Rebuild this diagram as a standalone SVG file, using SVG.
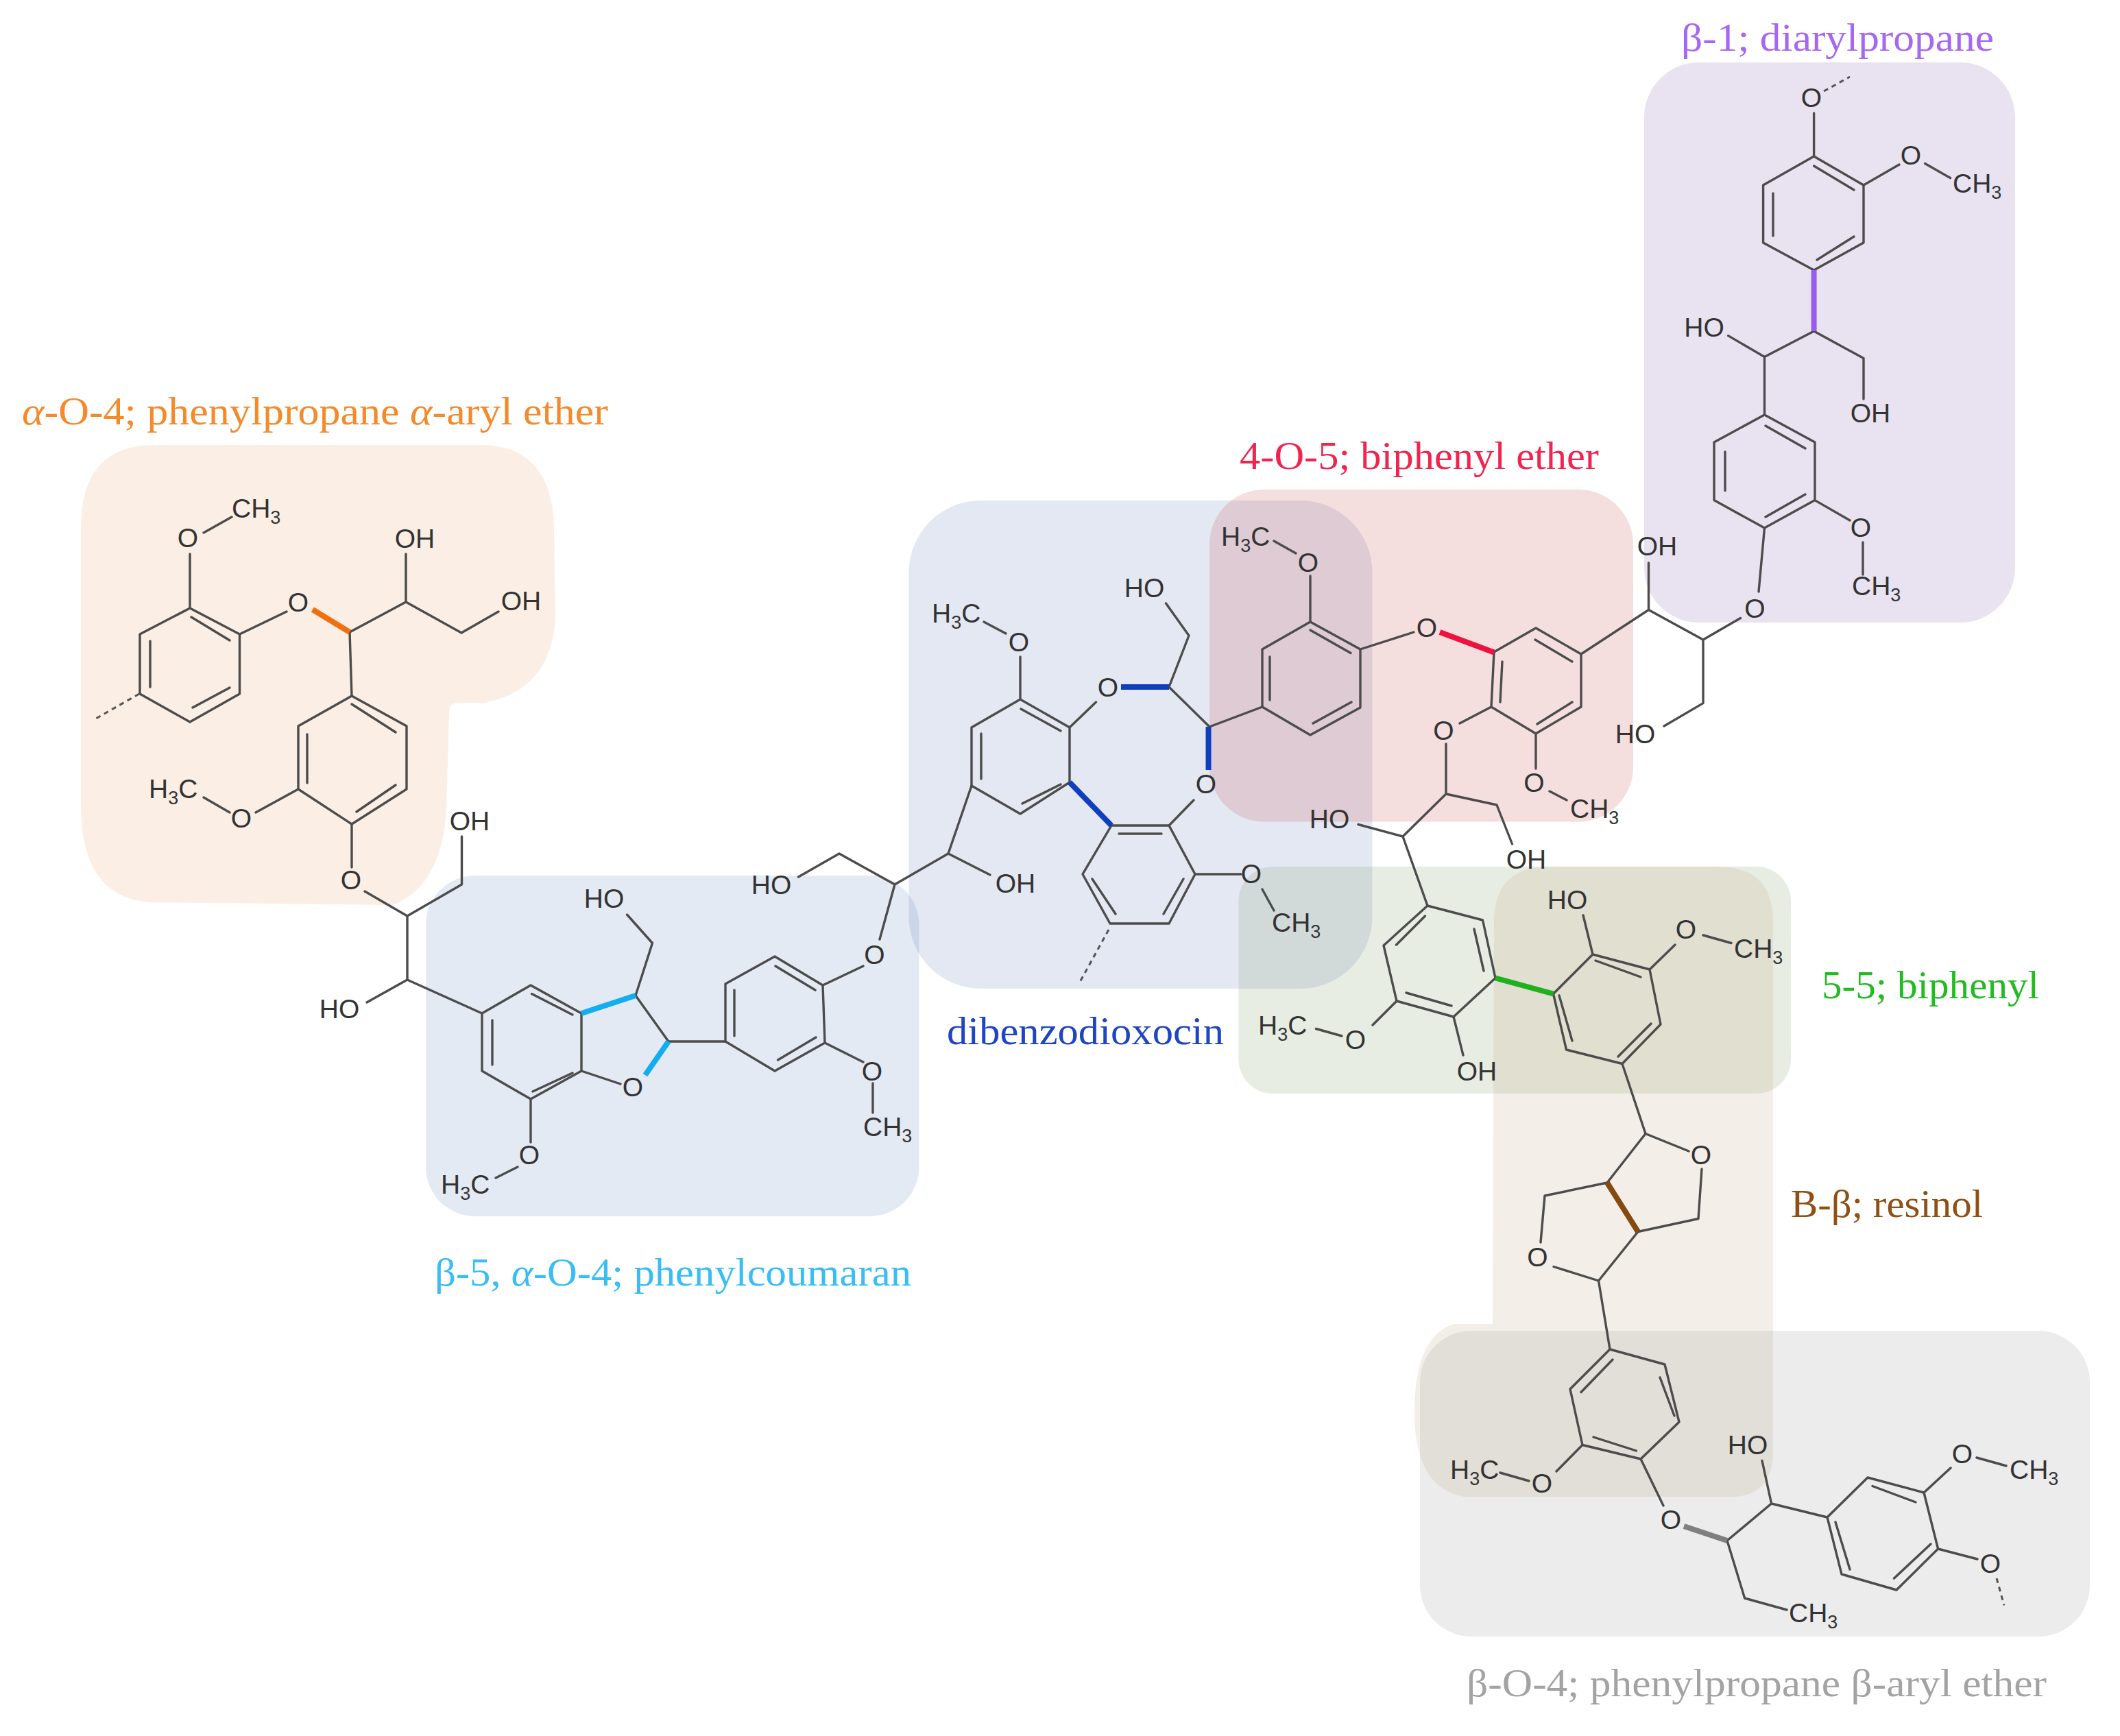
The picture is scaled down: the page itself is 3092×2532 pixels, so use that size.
<svg xmlns="http://www.w3.org/2000/svg" width="3092" height="2532" viewBox="0 0 3092 2532">
<style>
.bond{fill:none;stroke:#4c4c4c;stroke-width:3.4;stroke-linecap:round;stroke-linejoin:round}
.dash{fill:none;stroke:#555;stroke-width:3;stroke-dasharray:7 6}
.hl{fill:none;stroke-width:8;stroke-linecap:butt}
.a{font-family:"Liberation Sans",Arial,sans-serif;font-size:39px;fill:#333;text-anchor:middle}
.f{font-family:"Liberation Sans",Arial,sans-serif;font-size:39px;fill:#333}
.s{font-size:27px}
.l{font-family:"Liberation Serif","Times New Roman",serif;font-size:58px}
.i{font-style:italic}
.box{fill-opacity:.17}
</style>
<rect width="3092" height="2532" fill="#ffffff"/>
<g id="regions">
<path id="region-alpha-o-4" class="box" fill="#e89b60" d="M118,770Q118,649 225,649L700,649Q805,649 808,770L810,900Q805,1005 708,1025L668,1025Q655,1025 655,1040L651,1180Q645,1290 574,1320L220,1316Q118,1310 118,1175Z"/>
<rect id="region-phenylcoumaran" class="box" fill="#5a84bf" x="621" y="1277" width="719.500" height="497" rx="72"/>
<rect id="region-dibenzodioxocin" class="box" fill="#6078b3" x="1325.500" y="730" width="676" height="712" rx="105"/>
<rect id="region-biphenyl-ether" class="box" fill="#c43d3d" x="1764" y="714" width="618" height="484.500" rx="80"/>
<rect id="region-diarylpropane" class="box" fill="#7e5aad" x="2398" y="91" width="541" height="817" rx="80"/>
<rect id="region-biphenyl" class="box" fill="#789560" x="1806.500" y="1264" width="805.500" height="331" rx="50"/>
<path id="region-resinol" class="box" fill="#b99b72" d="M2179,1345Q2179,1264 2260,1264L2505,1264Q2586,1264 2586,1345L2586,2115Q2586,2183 2525,2183L2135,2183Q2063,2170 2063,2060Q2063,1950 2120,1931L2177,1931Z"/>
<rect id="region-beta-o-4" class="box" fill="#909090" x="2071" y="1941" width="977" height="446" rx="75"/>
</g>
<g id="connectors">
<path class="bond" d="M277,887L349.500,925L349.500,1012L277,1053L204,1012L204,925ZM279,900L335,934M335,1003L281,1032M219,935L219,1002M277,887L277,808M297,777L338,754M349.500,925L418,892M510,922L513,1015M510,922L592,878L592,808M592,878L673,923L727,892"/>
<path class="bond" d="M513,1015L593,1059L593,1151L513,1202L435,1151L435,1059ZM513,1027L577,1068M577,1145L520,1184M448,1071L448,1142M435,1151L373,1185M335,1185L297,1163M513,1202L513,1265M532,1300L594,1336L673.500,1290L673.500,1220M594,1336L594,1429L535,1462M594,1429L703,1478"/>
<path class="bond" d="M703,1478L774,1437L848,1478L848,1562L774,1603L703,1562ZM718,1488L718,1553M775.500,1449.500L835,1480M835,1565L777,1592M927,1452L951.500,1375.500L914.500,1334M927,1452L975,1519M848,1562L905,1581M975,1519L1058,1519M774,1603L774,1666M755,1702L723,1718"/>
<path class="bond" d="M1058,1519L1058,1435L1130,1395L1200,1437L1203,1521L1130,1562ZM1071,1444L1071,1511M1131,1409L1189,1444M1190,1513L1134.500,1546M1200,1437L1259,1409M1283,1370L1305,1290L1224,1245L1164.500,1279M1305,1290L1383,1245L1444,1276M1383,1245L1417,1146M1203,1521L1259,1549M1273,1580L1273,1623"/>
<path class="bond" d="M1488,1020L1560,1061L1560,1141L1488,1187L1417,1146L1417,1061ZM1489,1034L1547,1066M1547,1144L1491,1172M1431,1070L1431,1136M1488,1020L1488,958M1467,924L1435,907M1560,1061L1598.500,1024M1705,1002L1734,927L1700.500,880M1705,1002L1764,1060M1741,1167L1705,1204M1764,1060L1841,1031"/>
<path class="bond" d="M1621,1204L1705,1204L1743,1275L1705,1347L1619,1347L1579,1275ZM1632,1216L1694,1216M1726,1282L1697,1333M1593,1282L1627,1333M1743,1275L1810,1275M1841,1297L1858,1328"/>
<path class="bond" d="M1911,907L1984,947L1984,1032L1911,1072L1841,1031L1841,947ZM1911,919L1970,952.500M1971,1024L1915,1055M1852,958L1852,1021M1911,907L1911,840M1890,807L1858,789M1984,947L2062,922"/>
<path class="bond" d="M2179,951L2240,916L2306,954L2306,1031L2240,1070L2175,1031ZM2191,965L2188,1024M2239,933L2293,965M2293,1024L2242,1056M2175,1031L2129,1055M2109,1085L2109,1158L2046,1220L1981,1202.500M2109,1158L2183,1174L2205.500,1231M2046,1220L2082,1321M2240,1070L2240,1121M2260,1154L2285,1167"/>
<path class="bond" d="M2082,1321L2162.500,1342L2181,1426.500L2120,1483L2037,1460L2018,1379ZM2078.500,1336L2036.500,1378M2150,1355L2164,1416M2051,1448L2117,1467M2037,1460L2002,1495M1957,1511L1919.500,1500.500M2120,1483L2134,1539"/>
<path class="bond" d="M2265.500,1449.500L2323,1392L2406,1414L2422,1494L2366,1551.500L2284.500,1531ZM2327,1401L2393,1425M2408,1493L2360,1541M2274,1452L2293,1518M2323,1392L2309,1335M2406,1414L2443,1378M2484,1364L2525,1375.500M2366,1551.500L2400,1653.500L2463,1679M2482,1705L2477,1777.500L2389,1796.500M2400,1653.500L2344,1725L2253,1744L2247,1812M2266,1847.500L2331.500,1868L2389,1796.500M2331.500,1868L2348,1968"/>
<path class="bond" d="M2348,1968L2428,1990L2449,2074L2393,2128L2308,2107.500L2290,2026ZM2352,1983L2306,2030.500M2421,2009L2442,2065M2324,2096L2386.500,2116M2308,2107.500L2270,2146M2230,2160L2188,2148M2393,2128L2426,2196M2519,2247L2583.600,2193L2570,2130.500M2583.600,2193L2665,2213M2519,2247L2544.600,2331L2606,2348"/>
<path class="bond" d="M2665,2213L2724,2155L2806,2177L2826.600,2259L2766,2319L2686,2296ZM2731,2167.500L2794,2191M2816,2252L2762.500,2302M2677,2220L2698,2289M2806,2177L2845,2141M2883,2126L2926,2138M2826.600,2259L2884,2274"/>
<path class="bond" d="M2645.600,228L2718,270L2718,354L2645.600,394L2571.600,354L2571.600,270ZM2645.600,242L2704,277M2704,345L2650,379M2586,282L2586,344M2645.600,228L2645.600,165M2718,270L2770,240M2807.600,238.500L2844.500,259.600M2645.600,483L2573.500,520.500L2520.600,489.600M2645.600,483L2718,522.600L2718,582M2573.500,520.500L2573.500,605"/>
<path class="bond" d="M2573.500,605L2647,645L2647,729.600L2573.500,770L2500,729.600L2500,645ZM2575,621L2633,654M2633,721L2575,754M2516,659L2516,715.500M2647,729.600L2698,759M2717,791L2717,838M2573.500,770L2565,863M2538.500,901.500L2484,933L2404.500,889.500L2404.500,821M2404.500,889.500L2306,954M2484,933L2484,1025.600L2427,1059"/>
<path class="dash" d="M203,1012L140,1048M1617,1356L1574,1434M2660,133L2698,112M2912,2302L2923,2341.500"/>
<path class="hl" stroke="#f0700f" d="M456,889L510,922"/>
<path class="hl" stroke="#12aef0" d="M848,1478L927,1452M975,1519L941,1568"/>
<path class="hl" stroke="#0f3fbf" d="M1635,1002L1705,1002M1762.500,1060L1762.500,1123M1560,1141L1621,1204"/>
<path class="hl" stroke="#ee1240" d="M2100,922L2179,951.500"/>
<path class="hl" stroke="#9a5cf0" d="M2645.600,394L2645.600,483"/>
<path class="hl" stroke="#1fb01f" d="M2181,1426.500L2265.500,1449.500"/>
<path class="hl" stroke="#844a10" d="M2344,1725L2389,1796.500"/>
<path class="hl" stroke="#7f7f7f" d="M2456,2226L2519,2247"/>
</g>
<g id="atoms" transform="translate(0,1)">
<text class="a" x="274" y="797">O</text><text class="f" x="338" y="754">CH<tspan class="s" dy="9">3</tspan></text>
<text class="a" x="435" y="891">O</text><text class="a" x="605" y="798">OH</text><text class="a" x="760" y="889">OH</text>
<text class="f" x="217" y="1163">H<tspan class="s" dy="9">3</tspan><tspan dy="-9">C</tspan></text><text class="a" x="352" y="1206">O</text>
<text class="a" x="512" y="1296">O</text><text class="a" x="685" y="1210">OH</text><text class="a" x="495" y="1484">HO</text>
<text class="a" x="881" y="1323">HO</text><text class="a" x="923" y="1598">O</text><text class="a" x="772" y="1697">O</text>
<text class="f" x="643" y="1740">H<tspan class="s" dy="9">3</tspan><tspan dy="-9">C</tspan></text>
<text class="a" x="1275.500" y="1405">O</text><text class="a" x="1125" y="1303">HO</text><text class="a" x="1481" y="1301">OH</text>
<text class="a" x="1272" y="1575">O</text><text class="f" x="1259" y="1656">CH<tspan class="s" dy="9">3</tspan></text>
<text class="f" x="1359" y="907">H<tspan class="s" dy="9">3</tspan><tspan dy="-9">C</tspan></text><text class="a" x="1486" y="949">O</text>
<text class="a" x="1616" y="1015">O</text><text class="a" x="1669" y="870">HO</text><text class="a" x="1759" y="1156">O</text>
<text class="a" x="1825" y="1287">O</text><text class="f" x="1855" y="1358">CH<tspan class="s" dy="9">3</tspan></text>
<text class="f" x="1781" y="795">H<tspan class="s" dy="9">3</tspan><tspan dy="-9">C</tspan></text><text class="a" x="1908" y="833">O</text>
<text class="a" x="2081" y="928">O</text><text class="a" x="2105.500" y="1078">O</text><text class="a" x="1939" y="1207">HO</text>
<text class="a" x="2226" y="1266">OH</text><text class="a" x="2237.500" y="1154">O</text><text class="f" x="2290" y="1192">CH<tspan class="s" dy="9">3</tspan></text>
<text class="a" x="1977" y="1529">O</text><text class="f" x="1835" y="1508">H<tspan class="s" dy="9">3</tspan><tspan dy="-9">C</tspan></text>
<text class="a" x="2154" y="1575">OH</text><text class="a" x="2286" y="1325">HO</text><text class="a" x="2459" y="1368">O</text>
<text class="f" x="2529" y="1396">CH<tspan class="s" dy="9">3</tspan></text><text class="a" x="2481" y="1697">O</text><text class="a" x="2242.500" y="1846">O</text>
<text class="a" x="2249" y="2176">O</text><text class="f" x="2115" y="2156">H<tspan class="s" dy="9">3</tspan><tspan dy="-9">C</tspan></text>
<text class="a" x="2437" y="2229">O</text><text class="a" x="2549" y="2120">HO</text><text class="a" x="2862" y="2133">O</text>
<text class="f" x="2931" y="2156">CH<tspan class="s" dy="9">3</tspan></text><text class="a" x="2903" y="2293">O</text>
<text class="f" x="2609" y="2365">CH<tspan class="s" dy="9">3</tspan></text>
<text class="a" x="2642" y="155">O</text><text class="a" x="2787" y="239">O</text><text class="f" x="2848" y="280">CH<tspan class="s" dy="9">3</tspan></text>
<text class="a" x="2485.500" y="490">HO</text><text class="a" x="2728" y="615">OH</text><text class="a" x="2714" y="782">O</text>
<text class="f" x="2701" y="867">CH<tspan class="s" dy="9">3</tspan></text><text class="a" x="2559.500" y="900">O</text>
<text class="a" x="2417" y="809">OH</text><text class="a" x="2385" y="1083">HO</text>
</g>
<g id="labels">
<text class="l" x="32" y="619" fill="#f58a2a" textLength="855" lengthAdjust="spacingAndGlyphs"><tspan class="i">α</tspan>-O-4; phenylpropane <tspan class="i">α</tspan>-aryl ether</text>
<text class="l" x="634" y="1875" fill="#38bdf5" textLength="695" lengthAdjust="spacingAndGlyphs">β-5, <tspan class="i">α</tspan>-O-4; phenylcoumaran</text>
<text class="l" x="1381" y="1523" fill="#1f45c2" textLength="404" lengthAdjust="spacingAndGlyphs">dibenzodioxocin</text>
<text class="l" x="1808" y="684" fill="#f0254f" textLength="524" lengthAdjust="spacingAndGlyphs">4-O-5; biphenyl ether</text>
<text class="l" x="2452" y="74" fill="#a568f0" textLength="456" lengthAdjust="spacingAndGlyphs">β-1; diarylpropane</text>
<text class="l" x="2657" y="1456" fill="#22bb22" textLength="317" lengthAdjust="spacingAndGlyphs">5-5; biphenyl</text>
<text class="l" x="2612" y="1775" fill="#8f5014" textLength="280" lengthAdjust="spacingAndGlyphs">B-β; resinol</text>
<text class="l" x="2139" y="2474" fill="#a3a3a3" textLength="846" lengthAdjust="spacingAndGlyphs">β-O-4; phenylpropane β-aryl ether</text>
</g>
</svg>
